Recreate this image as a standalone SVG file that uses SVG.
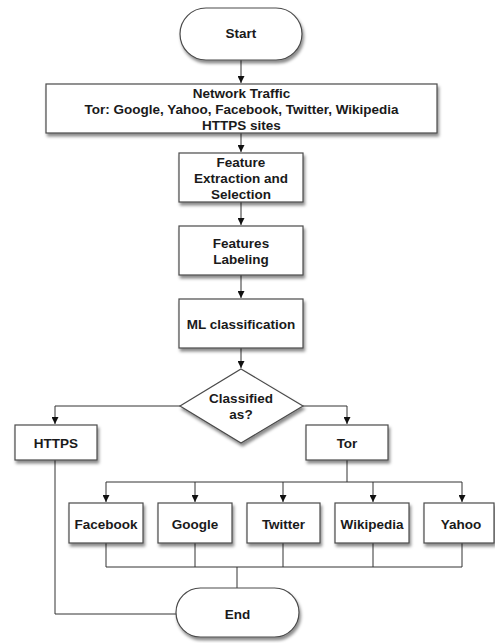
<svg xmlns="http://www.w3.org/2000/svg" width="495" height="643" viewBox="0 0 495 643">
<style>
.box{fill:#fff;stroke:#4a4a4a;stroke-width:1.2;filter:url(#sh)}
.t{font-family:"Liberation Sans",Arial,sans-serif;font-weight:bold;font-size:13.5px;fill:#1a1a1a;text-anchor:middle}
.c{fill:none;stroke:#333;stroke-width:1}
</style>
<defs>
<filter id="sh" x="-20%" y="-20%" width="140%" height="160%">
<feDropShadow dx="1.5" dy="3" stdDeviation="1.8" flood-color="#000" flood-opacity="0.45"/>
</filter>
<marker id="ar" viewBox="0 0 10 10" refX="10" refY="5" markerWidth="7" markerHeight="7" markerUnits="userSpaceOnUse" orient="auto">
<path d="M0,0 L10,5 L0,10 z" fill="#111"/>
</marker>
</defs>
<rect width="495" height="643" fill="#fff"/>
<g id="connectors">
<path class="c" d="M241,60 V83" marker-end="url(#ar)"/>
<path class="c" d="M241,133 V152" marker-end="url(#ar)"/>
<path class="c" d="M241,202 V225" marker-end="url(#ar)"/>
<path class="c" d="M241,275 V298" marker-end="url(#ar)"/>
<path class="c" d="M241,348 V368" marker-end="url(#ar)"/>
<path class="c" d="M180,406 H55 V424" marker-end="url(#ar)"/>
<path class="c" d="M303,406 H347 V424" marker-end="url(#ar)"/>
<path class="c" d="M347,460 V482"/>
<path class="c" d="M106,482 H462"/>
<path class="c" d="M106,482 V502" marker-end="url(#ar)"/>
<path class="c" d="M195,482 V502" marker-end="url(#ar)"/>
<path class="c" d="M283,482 V502" marker-end="url(#ar)"/>
<path class="c" d="M373,482 V502" marker-end="url(#ar)"/>
<path class="c" d="M462,482 V502" marker-end="url(#ar)"/>
<path class="c" d="M106,543 V567 H462 V543"/>
<path class="c" d="M195,543 V567"/>
<path class="c" d="M283,543 V567"/>
<path class="c" d="M373,543 V567"/>
<path class="c" d="M237,567 V588"/>
<path class="c" d="M55,460 V614 H176"/>
</g>
<g id="start">
<rect class="box" x="180" y="8" width="122" height="52" rx="26"/>
<text class="t" x="241" y="38">Start</text>
</g>
<g id="network-traffic">
<rect class="box" x="46" y="84" width="391" height="49"/>
<text class="t" x="241.5" y="98">Network Traffic</text>
<text class="t" x="241.5" y="114">Tor: Google, Yahoo, Facebook, Twitter, Wikipedia</text>
<text class="t" x="241.5" y="130">HTTPS sites</text>
</g>
<g id="feature-extraction">
<rect class="box" x="179" y="153" width="124" height="49"/>
<text class="t" x="241" y="167">Feature</text>
<text class="t" x="241" y="183">Extraction and</text>
<text class="t" x="241" y="199">Selection</text>
</g>
<g id="features-labeling">
<rect class="box" x="179" y="226" width="124" height="49"/>
<text class="t" x="241" y="248">Features</text>
<text class="t" x="241" y="264">Labeling</text>
</g>
<g id="ml-classification">
<rect class="box" x="179" y="299" width="124" height="49"/>
<text class="t" x="241" y="329">ML classification</text>
</g>
<g id="classified">
<polygon class="box" points="241,369 303,406 241,443 180,406"/>
<text class="t" x="241" y="403">Classified</text>
<text class="t" x="241" y="419">as?</text>
</g>
<g id="https">
<rect class="box" x="15" y="425" width="82" height="35"/>
<text class="t" x="56" y="448">HTTPS</text>
</g>
<g id="tor">
<rect class="box" x="306" y="425" width="82" height="35"/>
<text class="t" x="347" y="448">Tor</text>
</g>
<g id="facebook">
<rect class="box" x="69" y="503" width="74" height="40"/>
<text class="t" x="106" y="529">Facebook</text>
</g>
<g id="google">
<rect class="box" x="158" y="503" width="74" height="40"/>
<text class="t" x="195" y="529">Google</text>
</g>
<g id="twitter">
<rect class="box" x="247" y="503" width="73" height="40"/>
<text class="t" x="283.5" y="529">Twitter</text>
</g>
<g id="wikipedia">
<rect class="box" x="335" y="503" width="74" height="40"/>
<text class="t" x="372" y="529">Wikipedia</text>
</g>
<g id="yahoo">
<rect class="box" x="424" y="503" width="70" height="40"/>
<text class="t" x="461" y="529">Yahoo</text>
</g>
<g id="end">
<rect class="box" x="176" y="588" width="123" height="49" rx="24.5"/>
<text class="t" x="237.5" y="619">End</text>
</g>
</svg>
